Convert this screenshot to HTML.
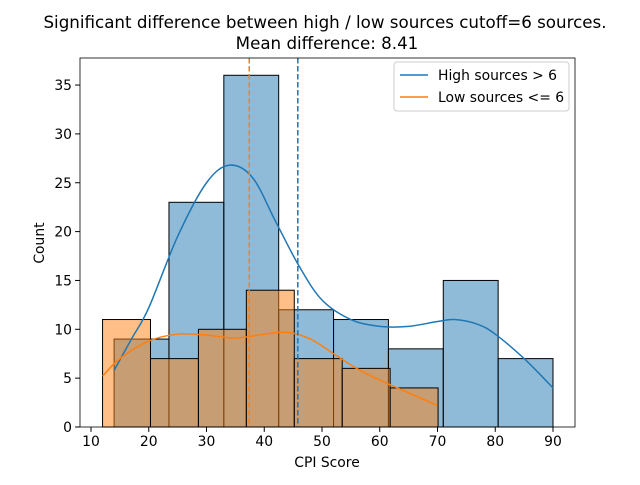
<!DOCTYPE html>
<html><head><meta charset="utf-8"><style>
body{margin:0;background:#fff;font-family:"Liberation Sans","DejaVu Sans",sans-serif}
svg text{font-family:"DejaVu Sans","Liberation Sans",sans-serif}
</style></head><body>
<svg id="chart" width="640" height="480"></svg>
<script>
const blueEdges=[14,23.5,33,42.5,52,61.5,71,80.5,90];
const blueCounts=[9,23,36,12,11,8,15,7];
const orangeEdges=[12,20.3,28.6,36.9,45.2,53.5,61.8,70.1];
const orangeCounts=[11,7,10,14,7,6,4];
const blueKdeX=[14,17,20,25,30,34,38,42,46,50,55,60,65,70,73,77,80,85,90];
const blueKdeY=[5.8,9,12.2,19.5,25,26.8,25.5,21,16.5,13,11,10.3,10.3,10.8,11,10.5,9.5,7,4];
const orangeKdeX=[12,15,20,25,30,35,40,44,48,52,56,60,65,70];
const orangeKdeY=[5.2,7,8.8,9.5,9.4,9.1,9.5,9.7,9,7.5,6,4.8,3.5,2.2];
const means=[45.81,37.4];
const xTicks=[10,20,30,40,50,60,70,80,90];
const yTicks=[0,5,10,15,20,25,30,35];
const L=80,R=575,T=58,B=427;
const sx=v=>91+(v-10)*5.775;
const sy=v=>427-v*9.77;
const NS="http://www.w3.org/2000/svg";
const svg=document.getElementById('chart');
function mk(tag,attrs,parent){const e=document.createElementNS(NS,tag);for(const k in attrs)e.setAttribute(k,attrs[k]);(parent||svg).appendChild(e);return e;}
function txt(s,attrs){const e=mk('text',attrs);e.textContent=s;return e;}
const t1=txt('Significant difference between high / low sources cutoff=6 sources.',{x:325,y:28,'text-anchor':'middle','font-size':16.7});


const t2=txt('Mean difference: 8.41',{x:327,y:49,'text-anchor':'middle','font-size':16.7});


blueCounts.forEach((c,i)=>{const r=mk('rect',{x:sx(blueEdges[i]),y:sy(c),width:sx(blueEdges[i+1])-sx(blueEdges[i]),height:sy(0)-sy(c),fill:'rgba(31,119,180,0.5)',stroke:'#000','stroke-width':1});

});
orangeCounts.forEach((c,i)=>{const r=mk('rect',{x:sx(orangeEdges[i]),y:sy(c),width:sx(orangeEdges[i+1])-sx(orangeEdges[i]),height:sy(0)-sy(c),fill:'rgba(255,127,14,0.5)',stroke:'#000','stroke-width':1});

});
function line(xs,ys,col,name){
  const P=xs.map((x,i)=>[sx(x),sy(ys[i])]);
  let d='M'+P[0][0]+','+P[0][1];
  for(let i=0;i<P.length-1;i++){
    const p0=P[Math.max(0,i-1)],p1=P[i],p2=P[i+1],p3=P[Math.min(P.length-1,i+2)];
    const c1=[p1[0]+(p2[0]-p0[0])/6,p1[1]+(p2[1]-p0[1])/6];
    const c2=[p2[0]-(p3[0]-p1[0])/6,p2[1]-(p3[1]-p1[1])/6];
    d+=' C'+c1+' '+c2+' '+p2;
  }
  const p=mk('path',{d:d,fill:'none',stroke:col,'stroke-width':1.5});
  
  }
line(blueKdeX,blueKdeY,'#1f77b4','kde-high');
line(orangeKdeX,orangeKdeY,'#ff7f0e','kde-low');
[['#1f77b4','mean-line-high'],['#ff7f0e','mean-line-low']].forEach((d,i)=>{const l=mk('line',{x1:sx(means[i]),x2:sx(means[i]),y1:T,y2:B,stroke:d[0],'stroke-width':1.5,'stroke-dasharray':'5.5,2.5'});

});
const fr=mk('rect',{x:L,y:T,width:R-L,height:B-T,fill:'none',stroke:'#000','stroke-width':0.8});


xTicks.forEach(v=>{mk('line',{x1:sx(v),x2:sx(v),y1:B,y2:B+4.9,stroke:'#000'});const t=txt(String(v),{x:sx(v),y:B+19,'text-anchor':'middle','font-size':13.9});

});
yTicks.forEach(v=>{mk('line',{x1:L-4.9,x2:L,y1:sy(v),y2:sy(v),stroke:'#000'});const t=txt(String(v),{x:L-8,y:sy(v)+5,'text-anchor':'end','font-size':13.9});

});
const xt=txt('CPI Score',{x:327,y:467,'text-anchor':'middle','font-size':13.9});


const yt=txt('Count',{x:44,y:243,'text-anchor':'middle','font-size':13.9,transform:'rotate(-90 44 243)'});


const lg=mk('g',{});


mk('rect',{x:394,y:62,width:175,height:49,rx:3,fill:'#fff',stroke:'#ccc'},lg);
mk('line',{x1:400,x2:428,y1:75,y2:75,stroke:'#1f77b4','stroke-width':1.5},lg);
mk('line',{x1:400,x2:428,y1:97,y2:97,stroke:'#ff7f0e','stroke-width':1.5},lg);
const e1=mk('text',{x:438,y:80,'font-size':13.9},lg);e1.textContent='High sources > 6';


const e2=mk('text',{x:438,y:102,'font-size':13.9},lg);e2.textContent='Low sources <= 6';


</script>
</body></html>
